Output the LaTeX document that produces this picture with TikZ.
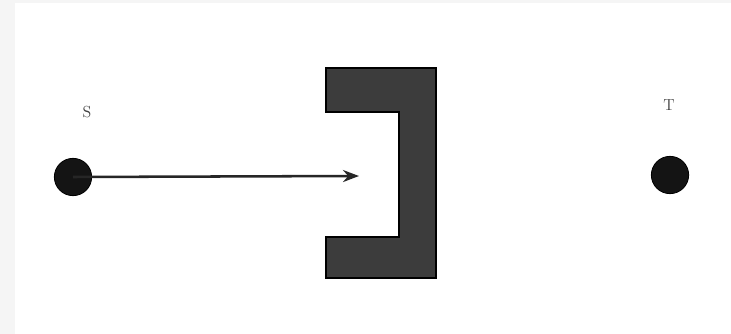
\documentclass[tikz,border=0pt]{standalone}
\usetikzlibrary{arrows.meta}
\definecolor{edgegray}{HTML}{F5F5F5}
\definecolor{bracketfill}{HTML}{3C3C3C}
\definecolor{dotcol}{HTML}{141414}
\tikzset{
  dotnode/.style={circle, fill=dotcol, draw=black, line width=0.6pt, minimum size=28pt, inner sep=0pt},
  labelnode/.style={font=\large, text=black!75},
  arrowline/.style={draw=black!85, line width=1.9pt, -{Stealth[length=12pt,width=9pt]}},
  bracketstyle/.style={fill=bracketfill, draw=black, line width=1pt}
}
\begin{document}
\begin{tikzpicture}[x=0.75pt,y=-0.75pt]
\useasboundingbox (0,0) rectangle (731,334);
\fill[white] (0,0) rectangle (731,334);
\fill[edgegray] (0,0) rectangle (731,3);
\fill[edgegray] (0,0) rectangle (15,334);
% labels
\node[labelnode] (slabel) at (87,112) {S};
\node[labelnode] (tlabel) at (669,105) {T};
% dots
\node[dotnode] (s) at (73,177) {};
\node[dotnode] (t) at (670,175) {};
% bracket
\draw[bracketstyle] (326,68) -- (436,68) -- (436,278) -- (326,278) -- (326,237) -- (399,237) -- (399,112) -- (326,112) -- cycle;
% arrow
\coordinate (tip) at (359,176);
\draw[arrowline] (s.center) -- (tip);
\end{tikzpicture}
\end{document}
